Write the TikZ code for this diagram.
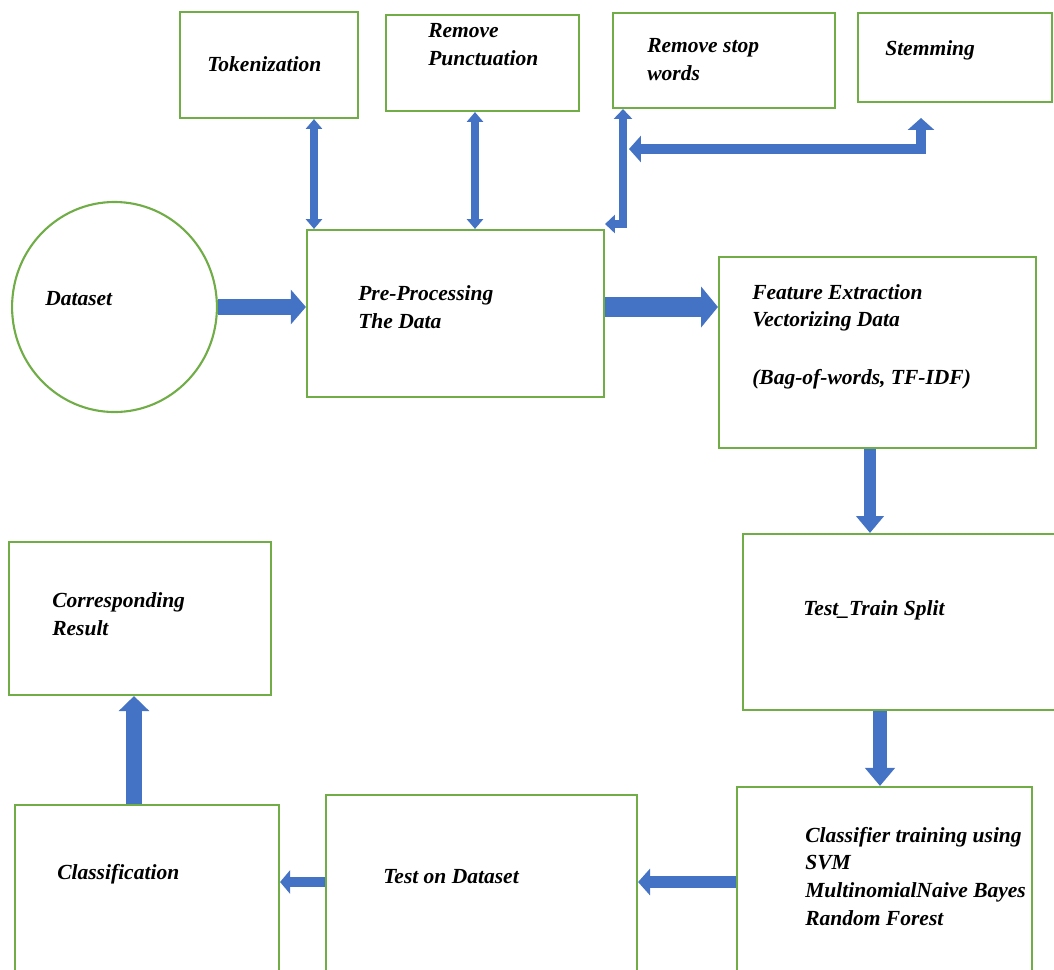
\documentclass[tikz,border=0pt]{standalone}
\usepackage{fontspec}
\setmainfont{Liberation Serif}
\usetikzlibrary{arrows.meta,fit,shapes.geometric}
\definecolor{boxgreen}{HTML}{70AD47}
\definecolor{flowblue}{HTML}{4472C4}
\tikzset{
	box/.style={draw=boxgreen, line width=1.5pt, inner sep=0pt},
	lbl/.style={inner sep=0pt, anchor=base west, align=left},
	flow/.style args={#1/#2/#3}{draw=flowblue, line width=#1, -{Triangle[width=#2, length=#3]}},
	twoway/.style args={#1/#2/#3}{draw=flowblue, line width=#1, {Triangle[width=#2, length=#3]}-{Triangle[width=#2, length=#3]}},
}
\begin{document}
\begin{tikzpicture}[x=0.025cm, y=-0.025cm, font=\bfseries\itshape\fontsize{15.3}{19.6}\selectfont, line join=miter]
	\useasboundingbox (0,0) rectangle (1054,969);
	\path
	(180,12) coordinate (tokA) (358,118) coordinate (tokB)
	(386,15) coordinate (punA) (579,111) coordinate (punB)
	(613,13) coordinate (stpA) (835,108) coordinate (stpB)
	(858,13) coordinate (stmA) (1052,102) coordinate (stmB)
	(307,230) coordinate (preA) (604,397) coordinate (preB)
	(719,257) coordinate (feaA) (1036,448) coordinate (feaB)
	(743,534) coordinate (ttsA) (1062,710) coordinate (ttsB)
	(9,542) coordinate (resA) (271,695) coordinate (resB)
	(15,805) coordinate (clsA) (279,980) coordinate (clsB)
	(326,795) coordinate (todA) (637,980) coordinate (todB)
	(737,787) coordinate (trnA) (1032,980) coordinate (trnB)
	(314,0) coordinate (tokcol) (475,0) coordinate (puncol)
	(623,224) coordinate (stpbend) (921,149) coordinate (stmbend)
	(921,118) coordinate (stmtip) (629,149) coordinate (stmleft)
	(870,0) coordinate (feacol) (880,0) coordinate (ttscol)
	(134,0) coordinate (clscol) (0,882) coordinate (botrow)
	;
	% boxes
	\node[box, fit=(tokA)(tokB)] (tok) {};
	\node[box, fit=(punA)(punB)] (pun) {};
	\node[box, fit=(stpA)(stpB)] (stp) {};
	\node[box, fit=(stmA)(stmB)] (stm) {};
	\node[box, ellipse, minimum width=5.12cm, minimum height=5.25cm] (ds) at (114.5,307) {};
	\node[box, fit=(preA)(preB)] (pre) {};
	\node[box, fit=(feaA)(feaB)] (fea) {};
	\node[box, fit=(ttsA)(ttsB)] (tts) {};
	\node[box, fit=(resA)(resB)] (res) {};
	\node[box, fit=(clsA)(clsB)] (cls) {};
	\node[box, fit=(todA)(todB)] (tod) {};
	\node[box, fit=(trnA)(trnB)] (trn) {};
	% texts (base = last line)
	\node[lbl] (tokT) at (207,71) {Tokenization};
	\node[lbl] (punT) at (428,65) {Remove\\Punctuation};
	\node[lbl] (stpT) at (647,80) {Remove stop\\words};
	\node[lbl] (stmT) at (885,55) {Stemming};
	\node[lbl] (dsT) at (45,305) {Dataset};
	\node[lbl] (preT) at (358,328) {Pre-Processing\\The Data};
	\node[lbl] (feaT) at (752,384) {Feature Extraction\\Vectorizing Data\\[21pt](Bag-of-words, TF-IDF)};
	\node[lbl] (ttsT) at (803,615) {Test\_Train Split};
	\node[lbl] (resT) at (52,635) {Corresponding\\Result};
	\node[lbl] (clsT) at (57,879) {Classification};
	\node[lbl] (todT) at (383,883) {Test on Dataset};
	\node[lbl] (trnT) at (805,925) {Classifier training using\\SVM\\MultinomialNaive Bayes\\Random Forest};
	% arrows
	\draw[twoway=5pt/11.4pt/7pt] (tok.south -| tokcol) -- (pre.north -| tokcol);
	\draw[twoway=5pt/11.4pt/7pt] (pun.south -| puncol) -- (pre.north -| puncol);
	\draw[twoway=5.7pt/12.8pt/7pt] (stp.south -| stpbend) -- (stpbend) -- (stpbend -| pre.east);
	\draw[twoway=7.8pt/18.5pt/8.5pt] (stmtip) -- (stmbend) -- (stmleft);
	\draw[flow=12pt/24pt/10.7pt] (ds.east) -- (pre.west |- ds.east);
	\draw[flow=14.2pt/28.5pt/12pt] (pre.east |- ds.east) -- (fea.west |- ds.east);
	\draw[flow=9.2pt/19.2pt/12pt] (fea.south -| feacol) -- (tts.north -| feacol);
	\draw[flow=10pt/20.6pt/12.8pt] (tts.south -| ttscol) -- (trn.north -| ttscol);
	\draw[flow=9.2pt/18.5pt/8.5pt] (trn.west |- botrow) -- (tod.east |- botrow);
	\draw[flow=7.1pt/16.4pt/7.1pt] (tod.west |- botrow) -- (cls.east |- botrow);
	\draw[flow=10.7pt/21.3pt/10.7pt] (cls.north -| clscol) -- (res.south -| clscol);
\end{tikzpicture}
\end{document}
